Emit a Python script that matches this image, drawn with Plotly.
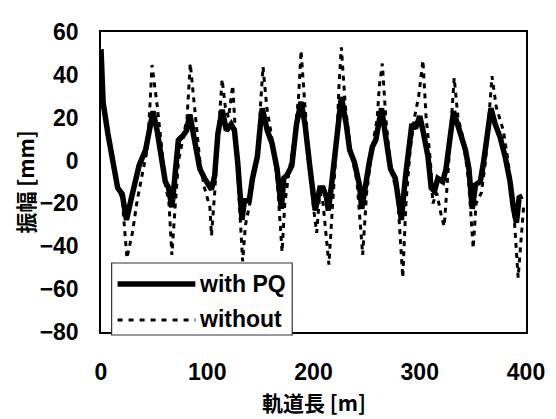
import plotly.graph_objects as go

# ---- data ----
x_with = [0, 2, 6.5, 12.7, 15.7, 20, 24, 28, 32.7, 35.8, 42, 45, 49, 52.8, 57.4, 60.5, 63.6, 66.7,
          69.7, 72.8, 77.5, 80.5, 83.6, 88, 93, 97.5, 101, 104, 107, 110, 114, 118, 122.5, 125.6,
          128.7, 132.7, 134.9, 139.5, 142.6, 147.2, 150.3, 151.8, 156.5, 161, 165.7, 169.7, 172,
          175, 179.6, 184, 188.3, 192, 196.6, 200, 201.6, 206, 209, 212.3, 214, 217, 221.6, 226.2,
          230.8, 234, 238.6, 243.2, 245.4, 249.4, 252.5, 255.5, 258.6, 264, 268, 272.5, 277, 282.7,
          286.4, 289.5, 292.6, 296, 300, 303, 307.7, 310.8, 313.9, 317, 321.6, 324.7, 327.8, 331.8,
          335.5, 338.6, 343, 346.3, 347.8, 349.4, 352.5, 357, 360, 363.3, 367, 371, 375.6, 380.3,
          385, 388, 391, 393.5, 396.6]
y_with = [52, 27, 12.5, -3.9, -12.8, -15.7, -27.7, -18.8, -8.3, -2.3, 5, 12.5, 23, 14, -1, -9.8,
          -12.8, -21.8, -6.8, 9.5, 11.8, 14, 21.5, 11, -3.9, -8.3, -11, -13.5, -6.9, 12.5, 23.7, 14,
          17, 14, -1, -27.7, -18.8, -18.8, -8.3, 2, 18.5, 24.4, 14, 8, -3.9, -22.5, -8.3, -6.9, -2.4,
          17, 27.4, 17, -3, -15.8, -23.3, -12.8, -12.8, -17.3, -23.3, -11.3, 9.5, 29.7, 17, 5, -0.9,
          -11.3, -22.5, -8.3, -0.9, 6.6, 9.5, 24.4, 9.5, -3.9, -8.3, -27.7, -8.3, 6.6, 17, 15, 20.7,
          14, 2, -12.8, -14.3, -8.3, -9.8, -3.9, 9.5, 23, 17, 12.5, 5, -3.9, -17.3, -22.5, -11.3,
          -9.8, -0.9, 11, 24.4, 17, 11, 2, -9.8, -21.8, -29, -17.3, -16.5]

x_without = [0, 2, 6.5, 12.7, 16, 20, 24.4, 29.6, 34, 40.4, 43.5, 46, 48, 52.8, 57, 61, 64, 66.7,
             70, 73, 77, 81, 84, 88, 93, 97, 102.5, 104, 107, 110, 112, 114, 117, 120, 124, 127,
             130, 133.3, 136, 140, 144, 148, 150, 152.5, 156, 161, 166, 170.4, 173, 177, 182, 186,
             188.3, 192, 197, 200, 203, 206, 209, 214.5, 218, 222, 224, 226.2, 230, 235, 241, 246.3,
             250, 255, 260, 262, 264.8, 268, 273, 279, 284, 287, 291, 295, 299, 303, 306, 310, 312.3,
             316, 320, 323, 326, 329, 332.4, 336, 341, 346, 350.3, 353, 358, 362, 365, 368, 372,
             378.7, 383, 388, 392.6, 395, 397, 398]
y_without = [50, 30, 12, -4, -13, -18, -45.6, -33.6, -18.8, -2.4, 5, 25, 44.6, 26, 5, -12, -20, -44,
             -20, 0, 10, 20, 45.3, 24.4, 0, -12, -21.8, -35, -15, 10, 25, 37.9, 25, 20, 35, 10, -15,
             -47, -30, -20, -5, 5, 25, 43.8, 25, 10, -10, -42.6, -20, -5, 10, 30, 51.3, 25, -5, -22,
             -33.7, -15, -20, -48.6, -20, 10, 35, 52.8, 25, 5, -10, -44, -15, 5, 20, 35, 45.3, 20, -5,
             -15, -54.6, -20, 5, 20, 30, 46.8, 20, 0, -20, -15, -25, -30.7, -10, 15, 38.6, 20, 10,
             -10, -41, -20, -15, 0, 20, 39.4, 25, 14, 0, -20, -54.6, -40, -30, -20]

x_ticks = [0, 100, 200, 300, 400]
y_ticks = [-80, -60, -40, -20, 0, 20, 40, 60]
series_names = ["with PQ", "without"]
x_title = "軌道長 [m]"
y_title = "振幅 [mm]"

FONT = "Liberation Sans, Arial, sans-serif"
CJK = "Noto Sans CJK JP, sans-serif"

fig = go.Figure()
fig.add_trace(go.Scatter(x=x_without, y=y_without, mode="lines", name=series_names[1],
                         line=dict(color="black", width=3, dash="5px,5px"), showlegend=False))
fig.add_trace(go.Scatter(x=x_with, y=y_with, mode="lines", name=series_names[0],
                         line=dict(color="black", width=5.5), showlegend=False))

# custom legend box (paper coordinates)
fig.add_shape(type="rect", xref="paper", yref="paper", x0=0.025, x1=0.45, y0=-0.01, y1=0.23,
              line=dict(color="#333", width=1.2), fillcolor="white", layer="above")
fig.add_shape(type="line", xref="paper", yref="paper", x0=0.039, x1=0.222, y0=0.16, y1=0.16,
              line=dict(color="black", width=5.5), layer="above")
fig.add_shape(type="line", xref="paper", yref="paper", x0=0.039, x1=0.222, y0=0.04, y1=0.04,
              line=dict(color="black", width=3, dash="5px,6px"), layer="above")
for yy, name in [(0.16, series_names[0]), (0.045, series_names[1])]:
    fig.add_annotation(xref="paper", yref="paper", x=0.226, y=yy, text=name, showarrow=False,
                       xanchor="left", yanchor="middle",
                       font=dict(family=FONT, size=23, color="black", weight="bold"))

fig.add_annotation(xref="paper", yref="paper", x=0.5, y=-0.232, text=x_title, showarrow=False,
                   xanchor="center", yanchor="middle",
                   font=dict(family=CJK, size=21, color="black", weight="bold"))
fig.add_annotation(xref="paper", yref="paper", x=-0.18, y=0.5, text=y_title, showarrow=False,
                   textangle=-90, xanchor="center", yanchor="middle",
                   font=dict(family=CJK, size=21, color="black", weight="bold"))

# page body has an 8px margin: figure is 548x411 placed at (8, 8)
fig.update_layout(
    width=548, height=411,
    margin=dict(l=93, r=23, t=11, b=87),
    paper_bgcolor="white", plot_bgcolor="white",
    showlegend=False,
    font=dict(family=FONT, color="black"),
)
fig.update_xaxes(range=[0, 400], tickvals=x_ticks, ticks="", showgrid=False, zeroline=False,
                 showline=True, mirror=True, linecolor="black", linewidth=1.5,
                 ticklabelstandoff=19,
                 tickfont=dict(family=FONT, size=23, color="black", weight="bold"))
fig.update_yaxes(range=[-80, 60], tickvals=y_ticks, ticks="", showgrid=False, zeroline=False,
                 showline=True, mirror=True, linecolor="black", linewidth=1.5,
                 ticklabelstandoff=16,
                 tickfont=dict(family=FONT, size=23, color="black", weight="bold"))

fig.write_html("out.html")
